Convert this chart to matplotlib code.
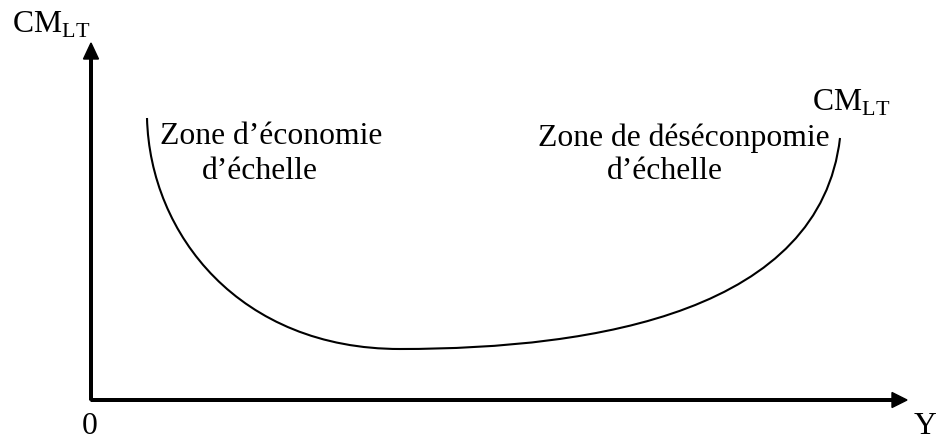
import matplotlib
matplotlib.use('Agg')
import matplotlib.pyplot as plt
from matplotlib.path import Path
from matplotlib.patches import PathPatch

plt.rcParams['font.family'] = ['Liberation Serif', 'DejaVu Serif']
plt.rcParams['mathtext.fontset'] = 'custom'
plt.rcParams['mathtext.rm'] = 'Liberation Serif'

# -----------------------------------------------------------------------------
# données : points de contrôle de la courbe CMLT
# -----------------------------------------------------------------------------
# branche décroissante (économies d'échelle) puis croissante (déséconomies)
Y_gauche  = [56, 59, 149, 309]
CM_gauche = [282, 165, 51, 51]
Y_droite  = [309, 509, 729, 749]
CM_droite = [51, 51, 90, 262]

x_max = 816
y_max = 357

lab_y       = r'CM$_{\mathrm{LT}}$'
lab_courbe  = r'CM$_{\mathrm{LT}}$'
zone_eco    = 'Zone d\u2019économie'
zone_deseco = 'Zone de déséconpomie'
echelle     = 'd\u2019échelle'

# -----------------------------------------------------------------------------
# figure
# -----------------------------------------------------------------------------
fig = plt.figure(figsize=(9.36, 4.41), dpi=100)
ax = fig.add_axes([0, 0, 1, 1])
ax.set_xlim(-91, 845)
ax.set_ylim(-41, 400)
ax.axis('off')

# axes avec flèches
ax.arrow(0, 0, x_max, 0, width=2.6, head_width=15, head_length=15,
         length_includes_head=True, color='black')
ax.arrow(0, 0, 0, y_max, width=2.6, head_width=15, head_length=16,
         length_includes_head=True, color='black')

# courbe (deux segments de Bézier cubiques)
verts = list(zip(Y_gauche, CM_gauche)) + list(zip(Y_droite[1:], CM_droite[1:]))
codes = [Path.MOVETO] + [Path.CURVE4] * 6
ax.add_patch(PathPatch(Path(verts, codes), fill=False, lw=1.5, edgecolor='black'))

fs = 22.8
ax.text(-79, 367, lab_y, fontsize=fs, va='baseline')
ax.text(721, 289, lab_courbe, fontsize=fs, va='baseline')
ax.text(69, 256, zone_eco, fontsize=fs, va='baseline')
ax.text(111, 221, echelle, fontsize=fs, va='baseline')
ax.text(447, 254, zone_deseco, fontsize=fs, va='baseline')
ax.text(516, 221, echelle, fontsize=fs, va='baseline')
ax.text(-9, -34, '0', fontsize=fs, va='baseline')
ax.text(823, -34, 'Y', fontsize=fs, va='baseline')

fig.savefig('out.png', dpi=100, facecolor='white')
